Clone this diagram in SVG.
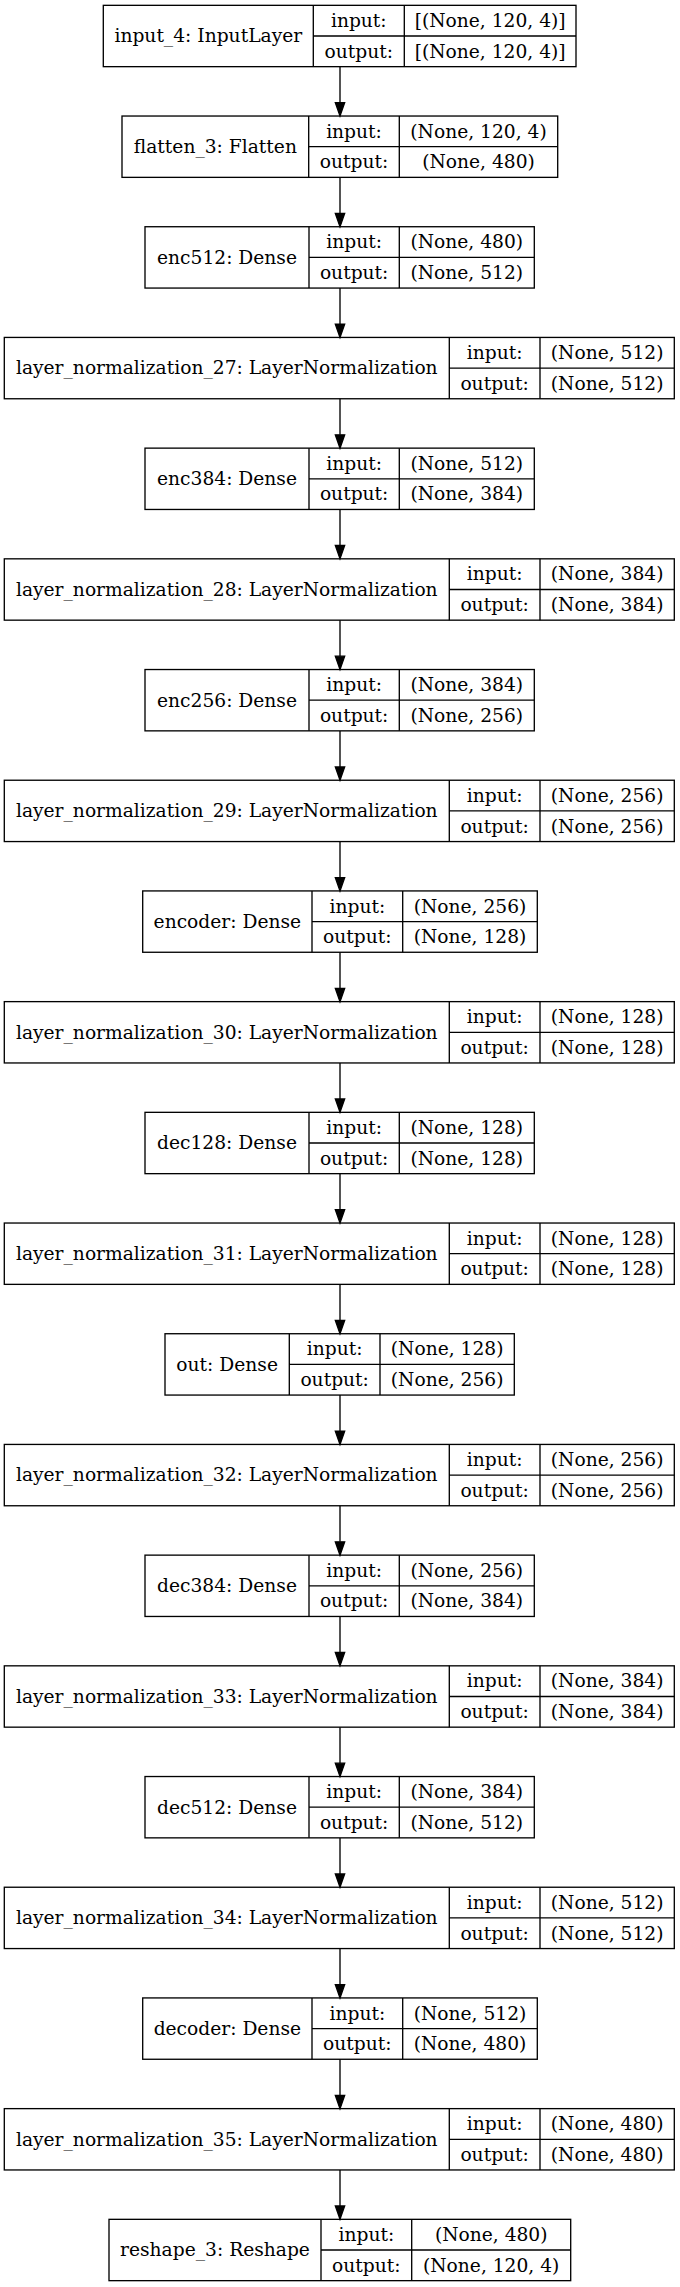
<svg xmlns="http://www.w3.org/2000/svg" width="680" height="2287" viewBox="0 0 680 2287">
<style>
.b{fill:none;stroke:#000;stroke-width:1.33}
.e{stroke:#000;stroke-width:1.33;fill:none}
.h{fill:#000;stroke:#000;stroke-width:1.33}
text{font-family:"DejaVu Serif",serif;font-size:18.67px;text-anchor:middle;fill:#000}
</style>
<rect width="680" height="2287" fill="#fff"/>
<g id="connectors">
<path class="e" d="M340,66.7V102.7M340,177.4V213.4M340,288.1V324.1M340,398.8V434.8M340,509.5V545.5M340,620.2V656.2M340,730.9V766.9M340,841.6V877.6M340,952.3V988.3M340,1063V1099M340,1173.7V1209.7M340,1284.4V1320.4M340,1395.1V1431.1M340,1505.8V1541.8M340,1616.5V1652.5M340,1727.2V1763.2M340,1837.9V1873.9M340,1948.6V1984.6M340,2059.3V2095.3M340,2170V2206"/>
<polygon class="h" points="335.33,102.7 344.67,102.7 340,116.03"/>
<polygon class="h" points="335.33,213.4 344.67,213.4 340,226.73"/>
<polygon class="h" points="335.33,324.1 344.67,324.1 340,337.43"/>
<polygon class="h" points="335.33,434.8 344.67,434.8 340,448.13"/>
<polygon class="h" points="335.33,545.5 344.67,545.5 340,558.83"/>
<polygon class="h" points="335.33,656.2 344.67,656.2 340,669.53"/>
<polygon class="h" points="335.33,766.9 344.67,766.9 340,780.23"/>
<polygon class="h" points="335.33,877.6 344.67,877.6 340,890.93"/>
<polygon class="h" points="335.33,988.3 344.67,988.3 340,1001.63"/>
<polygon class="h" points="335.33,1099 344.67,1099 340,1112.33"/>
<polygon class="h" points="335.33,1209.7 344.67,1209.7 340,1223.03"/>
<polygon class="h" points="335.33,1320.4 344.67,1320.4 340,1333.73"/>
<polygon class="h" points="335.33,1431.1 344.67,1431.1 340,1444.43"/>
<polygon class="h" points="335.33,1541.8 344.67,1541.8 340,1555.13"/>
<polygon class="h" points="335.33,1652.5 344.67,1652.5 340,1665.83"/>
<polygon class="h" points="335.33,1763.2 344.67,1763.2 340,1776.53"/>
<polygon class="h" points="335.33,1873.9 344.67,1873.9 340,1887.23"/>
<polygon class="h" points="335.33,1984.6 344.67,1984.6 340,1997.93"/>
<polygon class="h" points="335.33,2095.3 344.67,2095.3 340,2108.63"/>
<polygon class="h" points="335.33,2206 344.67,2206 340,2219.33"/>
</g>

<g id="input_4" transform="translate(0,5.33)">
<rect class="b" x="103.3" y="0" width="472.7" height="61.33"/>
<path class="b" d="M313.3,0V61.33M404.3,0V61.33M313.3,30.67H576"/>
<text x="208.3" y="37">input_4: InputLayer</text>
<text x="358.8" y="21.6">input:</text><text x="490.15" y="21.6">[(None, 120, 4)]</text>
<text x="358.8" y="52.3">output:</text><text x="490.15" y="52.3">[(None, 120, 4)]</text>
</g>

<g id="flatten_3" transform="translate(0,116.03)">
<rect class="b" x="122" y="0" width="435.7" height="61.33"/>
<path class="b" d="M308.7,0V61.33M399.3,0V61.33M308.7,30.67H557.7"/>
<text x="215.35" y="37">flatten_3: Flatten</text>
<text x="354" y="21.6">input:</text><text x="478.5" y="21.6">(None, 120, 4)</text>
<text x="354" y="52.3">output:</text><text x="478.5" y="52.3">(None, 480)</text>
</g>

<g id="enc512" transform="translate(0,226.73)">
<rect class="b" x="145" y="0" width="389.3" height="61.33"/>
<path class="b" d="M309,0V61.33M399.3,0V61.33M309,30.67H534.3"/>
<text x="227" y="37">enc512: Dense</text>
<text x="354.15" y="21.6">input:</text><text x="466.8" y="21.6">(None, 480)</text>
<text x="354.15" y="52.3">output:</text><text x="466.8" y="52.3">(None, 512)</text>
</g>

<g id="layer_normalization_27" transform="translate(0,337.43)">
<rect class="b" x="4.3" y="0" width="670" height="61.33"/>
<path class="b" d="M449.3,0V61.33M540,0V61.33M449.3,30.67H674.3"/>
<text x="226.8" y="37">layer_normalization_27: LayerNormalization</text>
<text x="494.65" y="21.6">input:</text><text x="607.15" y="21.6">(None, 512)</text>
<text x="494.65" y="52.3">output:</text><text x="607.15" y="52.3">(None, 512)</text>
</g>

<g id="enc384" transform="translate(0,448.13)">
<rect class="b" x="145" y="0" width="389.3" height="61.33"/>
<path class="b" d="M309,0V61.33M399.3,0V61.33M309,30.67H534.3"/>
<text x="227" y="37">enc384: Dense</text>
<text x="354.15" y="21.6">input:</text><text x="466.8" y="21.6">(None, 512)</text>
<text x="354.15" y="52.3">output:</text><text x="466.8" y="52.3">(None, 384)</text>
</g>

<g id="layer_normalization_28" transform="translate(0,558.83)">
<rect class="b" x="4.3" y="0" width="670" height="61.33"/>
<path class="b" d="M449.3,0V61.33M540,0V61.33M449.3,30.67H674.3"/>
<text x="226.8" y="37">layer_normalization_28: LayerNormalization</text>
<text x="494.65" y="21.6">input:</text><text x="607.15" y="21.6">(None, 384)</text>
<text x="494.65" y="52.3">output:</text><text x="607.15" y="52.3">(None, 384)</text>
</g>

<g id="enc256" transform="translate(0,669.53)">
<rect class="b" x="145" y="0" width="389.3" height="61.33"/>
<path class="b" d="M309,0V61.33M399.3,0V61.33M309,30.67H534.3"/>
<text x="227" y="37">enc256: Dense</text>
<text x="354.15" y="21.6">input:</text><text x="466.8" y="21.6">(None, 384)</text>
<text x="354.15" y="52.3">output:</text><text x="466.8" y="52.3">(None, 256)</text>
</g>

<g id="layer_normalization_29" transform="translate(0,780.23)">
<rect class="b" x="4.3" y="0" width="670" height="61.33"/>
<path class="b" d="M449.3,0V61.33M540,0V61.33M449.3,30.67H674.3"/>
<text x="226.8" y="37">layer_normalization_29: LayerNormalization</text>
<text x="494.65" y="21.6">input:</text><text x="607.15" y="21.6">(None, 256)</text>
<text x="494.65" y="52.3">output:</text><text x="607.15" y="52.3">(None, 256)</text>
</g>

<g id="encoder" transform="translate(0,890.93)">
<rect class="b" x="142.7" y="0" width="394.6" height="61.33"/>
<path class="b" d="M312,0V61.33M402.7,0V61.33M312,30.67H537.3"/>
<text x="227.35" y="37">encoder: Dense</text>
<text x="357.35" y="21.6">input:</text><text x="470" y="21.6">(None, 256)</text>
<text x="357.35" y="52.3">output:</text><text x="470" y="52.3">(None, 128)</text>
</g>

<g id="layer_normalization_30" transform="translate(0,1001.63)">
<rect class="b" x="4.3" y="0" width="670" height="61.33"/>
<path class="b" d="M449.3,0V61.33M540,0V61.33M449.3,30.67H674.3"/>
<text x="226.8" y="37">layer_normalization_30: LayerNormalization</text>
<text x="494.65" y="21.6">input:</text><text x="607.15" y="21.6">(None, 128)</text>
<text x="494.65" y="52.3">output:</text><text x="607.15" y="52.3">(None, 128)</text>
</g>

<g id="dec128" transform="translate(0,1112.33)">
<rect class="b" x="145" y="0" width="389.3" height="61.33"/>
<path class="b" d="M309,0V61.33M399.3,0V61.33M309,30.67H534.3"/>
<text x="227" y="37">dec128: Dense</text>
<text x="354.15" y="21.6">input:</text><text x="466.8" y="21.6">(None, 128)</text>
<text x="354.15" y="52.3">output:</text><text x="466.8" y="52.3">(None, 128)</text>
</g>

<g id="layer_normalization_31" transform="translate(0,1223.03)">
<rect class="b" x="4.3" y="0" width="670" height="61.33"/>
<path class="b" d="M449.3,0V61.33M540,0V61.33M449.3,30.67H674.3"/>
<text x="226.8" y="37">layer_normalization_31: LayerNormalization</text>
<text x="494.65" y="21.6">input:</text><text x="607.15" y="21.6">(None, 128)</text>
<text x="494.65" y="52.3">output:</text><text x="607.15" y="52.3">(None, 128)</text>
</g>

<g id="out" transform="translate(0,1333.73)">
<rect class="b" x="165" y="0" width="349.3" height="61.33"/>
<path class="b" d="M289.3,0V61.33M380,0V61.33M289.3,30.67H514.3"/>
<text x="227.15" y="37">out: Dense</text>
<text x="334.65" y="21.6">input:</text><text x="447.15" y="21.6">(None, 128)</text>
<text x="334.65" y="52.3">output:</text><text x="447.15" y="52.3">(None, 256)</text>
</g>

<g id="layer_normalization_32" transform="translate(0,1444.43)">
<rect class="b" x="4.3" y="0" width="670" height="61.33"/>
<path class="b" d="M449.3,0V61.33M540,0V61.33M449.3,30.67H674.3"/>
<text x="226.8" y="37">layer_normalization_32: LayerNormalization</text>
<text x="494.65" y="21.6">input:</text><text x="607.15" y="21.6">(None, 256)</text>
<text x="494.65" y="52.3">output:</text><text x="607.15" y="52.3">(None, 256)</text>
</g>

<g id="dec384" transform="translate(0,1555.13)">
<rect class="b" x="145" y="0" width="389.3" height="61.33"/>
<path class="b" d="M309,0V61.33M399.3,0V61.33M309,30.67H534.3"/>
<text x="227" y="37">dec384: Dense</text>
<text x="354.15" y="21.6">input:</text><text x="466.8" y="21.6">(None, 256)</text>
<text x="354.15" y="52.3">output:</text><text x="466.8" y="52.3">(None, 384)</text>
</g>

<g id="layer_normalization_33" transform="translate(0,1665.83)">
<rect class="b" x="4.3" y="0" width="670" height="61.33"/>
<path class="b" d="M449.3,0V61.33M540,0V61.33M449.3,30.67H674.3"/>
<text x="226.8" y="37">layer_normalization_33: LayerNormalization</text>
<text x="494.65" y="21.6">input:</text><text x="607.15" y="21.6">(None, 384)</text>
<text x="494.65" y="52.3">output:</text><text x="607.15" y="52.3">(None, 384)</text>
</g>

<g id="dec512" transform="translate(0,1776.53)">
<rect class="b" x="145" y="0" width="389.3" height="61.33"/>
<path class="b" d="M309,0V61.33M399.3,0V61.33M309,30.67H534.3"/>
<text x="227" y="37">dec512: Dense</text>
<text x="354.15" y="21.6">input:</text><text x="466.8" y="21.6">(None, 384)</text>
<text x="354.15" y="52.3">output:</text><text x="466.8" y="52.3">(None, 512)</text>
</g>

<g id="layer_normalization_34" transform="translate(0,1887.23)">
<rect class="b" x="4.3" y="0" width="670" height="61.33"/>
<path class="b" d="M449.3,0V61.33M540,0V61.33M449.3,30.67H674.3"/>
<text x="226.8" y="37">layer_normalization_34: LayerNormalization</text>
<text x="494.65" y="21.6">input:</text><text x="607.15" y="21.6">(None, 512)</text>
<text x="494.65" y="52.3">output:</text><text x="607.15" y="52.3">(None, 512)</text>
</g>

<g id="decoder" transform="translate(0,1997.93)">
<rect class="b" x="142.7" y="0" width="394.6" height="61.33"/>
<path class="b" d="M312,0V61.33M402.7,0V61.33M312,30.67H537.3"/>
<text x="227.35" y="37">decoder: Dense</text>
<text x="357.35" y="21.6">input:</text><text x="470" y="21.6">(None, 512)</text>
<text x="357.35" y="52.3">output:</text><text x="470" y="52.3">(None, 480)</text>
</g>

<g id="layer_normalization_35" transform="translate(0,2108.63)">
<rect class="b" x="4.3" y="0" width="670" height="61.33"/>
<path class="b" d="M449.3,0V61.33M540,0V61.33M449.3,30.67H674.3"/>
<text x="226.8" y="37">layer_normalization_35: LayerNormalization</text>
<text x="494.65" y="21.6">input:</text><text x="607.15" y="21.6">(None, 480)</text>
<text x="494.65" y="52.3">output:</text><text x="607.15" y="52.3">(None, 480)</text>
</g>

<g id="reshape_3" transform="translate(0,2219.33)">
<rect class="b" x="109" y="0" width="461.7" height="61.33"/>
<path class="b" d="M321,0V61.33M411.7,0V61.33M321,30.67H570.7"/>
<text x="215" y="37">reshape_3: Reshape</text>
<text x="366.35" y="21.6">input:</text><text x="491.2" y="21.6">(None, 480)</text>
<text x="366.35" y="52.3">output:</text><text x="491.2" y="52.3">(None, 120, 4)</text>
</g>
</svg>
